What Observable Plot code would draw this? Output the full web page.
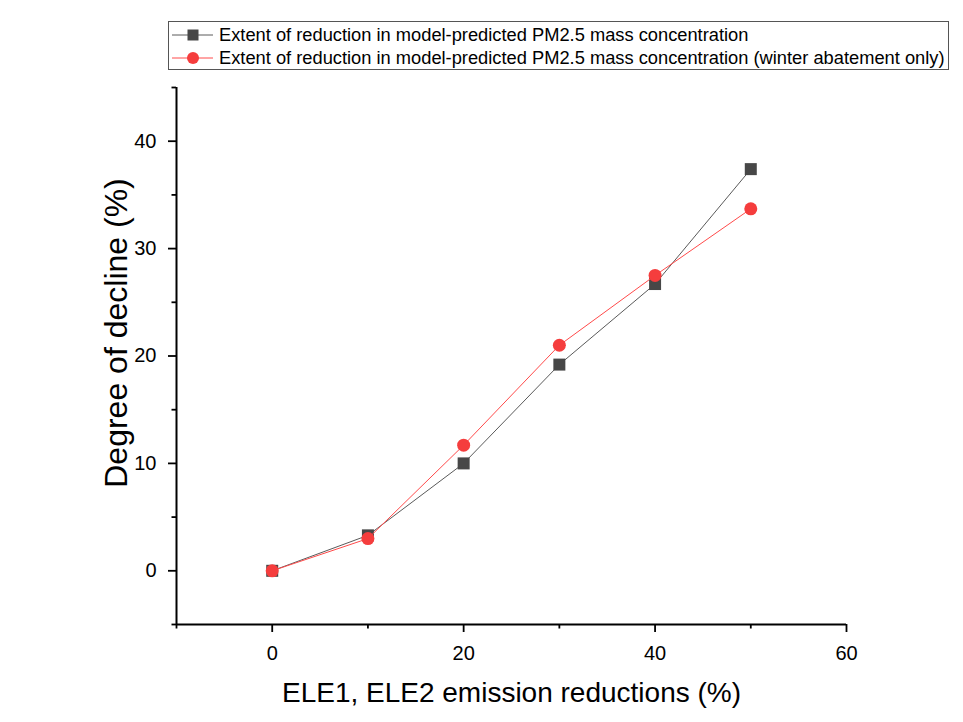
<!DOCTYPE html>
<html>
<head>
<meta charset="utf-8">
<script src="https://cdn.jsdelivr.net/npm/d3@7"></script>
<script src="https://cdn.jsdelivr.net/npm/@observablehq/plot@0.6"></script>
<style>
  html, body { margin: 0; padding: 0; background: #fff; }
  #wrap { position: relative; width: 963px; height: 722px; font-family: "Liberation Sans", Arial, sans-serif; }
  #legend { position: absolute; left: 168px; top: 21px; width: 779px; height: 47px; border: 1px solid #555; background: #fff; box-sizing: content-box; }
  .row { position: absolute; left: 0; height: 22px; display: flex; align-items: center; font-size: 18.3px; color: #000; white-space: nowrap; }
  .row svg { margin-left: 2px; margin-right: 6px; }
</style>
</head>
<body>
<div id="wrap">
  <div id="chart"></div>
  <div id="legend"></div>
</div>
<script>
const reductions = [0, 10, 20, 30, 40, 50];
const allSeason = [0, 3.3, 10.0, 19.2, 26.7, 37.4];
const winterOnly = [0, 3.0, 11.7, 21.0, 27.5, 33.7];
const seriesNames = [
  "Extent of reduction in model-predicted PM2.5 mass concentration",
  "Extent of reduction in model-predicted PM2.5 mass concentration (winter abatement only)"
];
const xTitle = "ELE1, ELE2 emission reductions (%)";
const yTitle = "Degree of decline (%)";
const xMajor = [0, 20, 40, 60];
const xMinor = [-10, 10, 30, 50];
const yMajor = [0, 10, 20, 30, 40];
const yMinor = [-5, 5, 15, 25, 35, 45];

const black = reductions.map((x, i) => ({x, y: allSeason[i]}));
const red = reductions.map((x, i) => ({x, y: winterOnly[i]}));

const lineGray = "#5a5a5a", fillGray = "#474747";
const lineRed = "#ff4a4a", fillRed = "#f53d3d";

const chart = Plot.plot({
  width: 963,
  height: 722,
  marginTop: 87,
  marginRight: 117,
  marginBottom: 98,
  marginLeft: 176,
  style: {fontFamily: "'Liberation Sans', Arial, sans-serif", fontSize: "20px", background: "white", overflow: "visible"},
  x: {domain: [-10, 60]},
  y: {domain: [-5, 45]},
  marks: [
    Plot.axisX({ticks: xMajor, tickSize: 8, tickPadding: 13, fontSize: 20, strokeWidth: 1.8, label: null, tickFormat: d => String(d)}),
    Plot.axisX({ticks: xMinor, tickSize: 4.5, strokeWidth: 1.8, label: null, tickFormat: () => ""}),
    Plot.axisY({ticks: yMajor, tickSize: 8, tickPadding: 12, fontSize: 20, strokeWidth: 1.8, label: null, tickFormat: d => String(d)}),
    Plot.axisY({ticks: yMinor, tickSize: 4.5, strokeWidth: 1.8, label: null, tickFormat: () => ""}),
    Plot.ruleX([-10], {stroke: "#000", strokeWidth: 2}),
    Plot.ruleY([-5], {stroke: "#000", strokeWidth: 2}),
    Plot.line(black, {x: "x", y: "y", stroke: lineGray, strokeWidth: 1}),
    Plot.dot(black, {x: "x", y: "y", symbol: "square", r: 6.77, fill: fillGray, stroke: "none"}),
    Plot.line(red, {x: "x", y: "y", stroke: lineRed, strokeWidth: 1}),
    Plot.dot(red, {x: "x", y: "y", symbol: "circle", r: 6.5, fill: fillRed, stroke: "none"}),
    Plot.text([xTitle], {frameAnchor: "bottom", dy: 69, fontSize: 28, lineAnchor: "middle", textAnchor: "middle", fill: "#000"}),
    Plot.text([yTitle], {frameAnchor: "left", rotate: -90, dx: -60, dy: -23, fontSize: 32, lineAnchor: "middle", textAnchor: "middle", fill: "#000"})
  ]
});
document.getElementById("chart").appendChild(chart);

// Legend
const legend = document.getElementById("legend");
const rows = [
  {name: seriesNames[0], line: lineGray, fill: fillGray, shape: "square", top: 2},
  {name: seriesNames[1], line: lineRed, fill: fillRed, shape: "circle", top: 25}
];
rows.forEach(r => {
  const div = document.createElement("div");
  div.className = "row";
  div.style.top = r.top + "px";
  const ns = "http://www.w3.org/2000/svg";
  const svg = document.createElementNS(ns, "svg");
  svg.setAttribute("width", 42);
  svg.setAttribute("height", 22);
  const ln = document.createElementNS(ns, "line");
  ln.setAttribute("x1", 1); ln.setAttribute("x2", 43);
  ln.setAttribute("y1", 11); ln.setAttribute("y2", 11);
  ln.setAttribute("stroke", r.line); ln.setAttribute("stroke-width", 1);
  svg.appendChild(ln);
  let m;
  if (r.shape === "square") {
    m = document.createElementNS(ns, "rect");
    m.setAttribute("x", 16.5); m.setAttribute("y", 5.5);
    m.setAttribute("width", 11); m.setAttribute("height", 11);
  } else {
    m = document.createElementNS(ns, "circle");
    m.setAttribute("cx", 22); m.setAttribute("cy", 11); m.setAttribute("r", 6);
  }
  m.setAttribute("fill", r.fill);
  svg.appendChild(m);
  div.appendChild(svg);
  const span = document.createElement("span");
  span.textContent = r.name;
  div.appendChild(span);
  legend.appendChild(div);
});
</script>
</body>
</html>
